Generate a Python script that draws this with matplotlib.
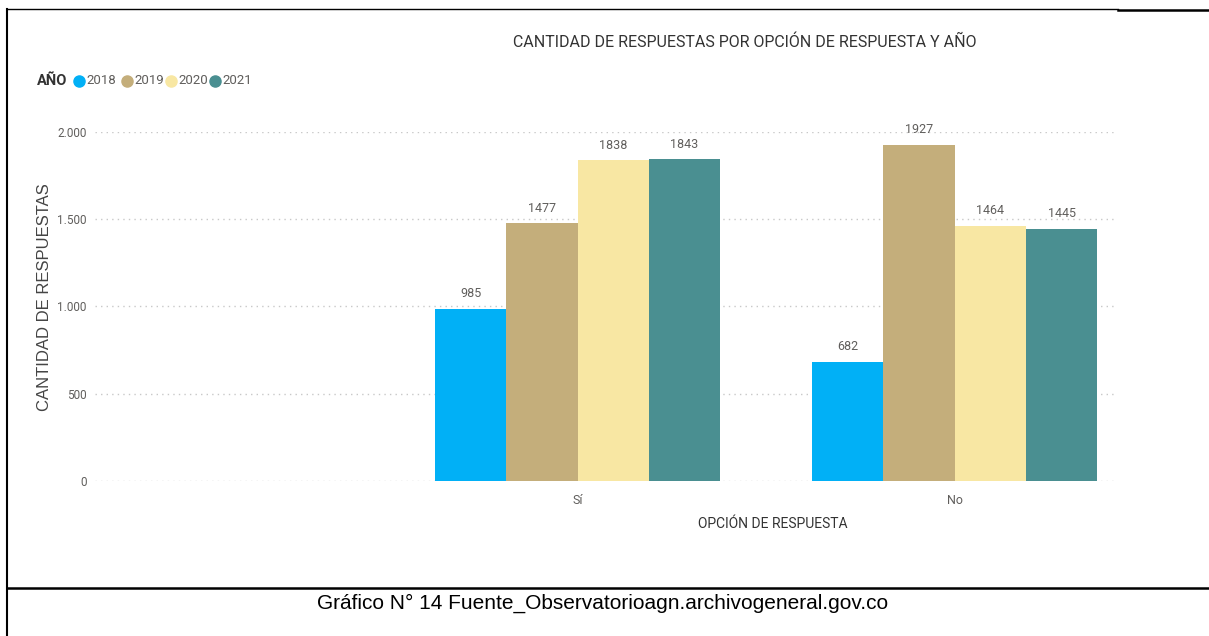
import matplotlib.pyplot as plt
from matplotlib.lines import Line2D

# data
categories = ["Sí", "No"]
years = ["2018", "2019", "2020", "2021"]
values_2018 = [985, 682]
values_2019 = [1477, 1927]
values_2020 = [1838, 1464]
values_2021 = [1843, 1445]
yticks = [0, 500, 1000, 1500, 2000]
ytick_labels = ["0", "500", "1.000", "1.500", "2.000"]

colors = ["#01B0F6", "#C4AE7B", "#F8E7A3", "#4A8F91"]
series = [values_2018, values_2019, values_2020, values_2021]

cond = ["Roboto", "DejaVu Sans"]
arial = ["Liberation Sans", "DejaVu Sans"]

W, H = 1209, 636
fig = plt.figure(figsize=(W / 100, H / 100), dpi=100)
ax = fig.add_axes([95 / W, (H - 481) / H, 1021 / W, 349 / H])

bw = 0.189
x = range(len(categories))
for i, vals in enumerate(series):
    offs = (i - 1.5) * bw
    xs = [c + offs for c in x]
    ax.bar(xs, vals, width=bw, color=colors[i], zorder=2)
    for xx, v in zip(xs, vals):
        ax.text(xx, v + 50, str(v), ha="center", va="bottom", fontsize=9,
                color="#605E5C", family=cond, clip_on=False)

ax.set_xlim(-1.28, 1.428)
ax.set_ylim(0, 2000)
ax.set_yticks(yticks)
ax.set_yticklabels(ytick_labels, family=cond, fontsize=8.5, color="#605E5C")
ax.set_xticks(list(x))
ax.set_xticklabels(categories, family=cond, fontsize=9, color="#605E5C")
ax.tick_params(length=0, pad=9)
ax.tick_params(axis="y", pad=6)
ax.yaxis.grid(True, linestyle=(0, (1, 3)), color="#C8C8C8", linewidth=1, zorder=0)
for s in ax.spines.values():
    s.set_visible(False)

ax.set_xlabel("OPCIÓN DE RESPUESTA", family=cond, fontsize=10, color="#333333")
ax.xaxis.set_label_coords((773 - 95) / 1021, -36 / 349)

fig.text(45 / W, 1 - 297 / H, "CANTIDAD DE RESPUESTAS", rotation=90, ha="center",
         va="center", family=arial, fontsize=12, color="#444444")

fig.text(745 / W, 1 - 42 / H, "CANTIDAD DE RESPUESTAS POR OPCIÓN DE RESPUESTA Y AÑO",
         ha="center", va="center", family=cond, fontsize=11.5, color="#333333")

# legend
fig.text(37 / W, 1 - 81 / H, "AÑO", ha="left", va="center", family=cond,
         fontsize=10.5, fontweight="bold", color="#333333")
lx = [79, 127, 171, 215]
for i, yr in enumerate(years):
    fig.add_artist(Line2D([lx[i] / W], [1 - 81 / H], marker="o", markersize=8,
                          color=colors[i], linestyle="none"))
    fig.text((lx[i] + 7) / W, 1 - 81 / H, yr, ha="left", va="center", family=cond,
             fontsize=9.5, color="#605E5C")

# document frame lines
fig.add_artist(Line2D([7 / W, 7 / W], [0, 1 - 9 / H], color="black", linewidth=1.5))
fig.add_artist(Line2D([7 / W, 1118 / W], [1 - 9 / H, 1 - 9 / H], color="black", linewidth=1))
fig.add_artist(Line2D([1118 / W, 1], [1 - 10 / H, 1 - 10 / H], color="black", linewidth=1.8))
fig.add_artist(Line2D([7 / W, 1], [1 - 588 / H, 1 - 588 / H], color="black", linewidth=1.8))

fig.text(603 / W, 1 - 603 / H, "Gráfico N° 14 Fuente_Observatorioagn.archivogeneral.gov.co",
         ha="center", va="center", family=arial, fontsize=15, color="black")

fig.savefig("out.png", dpi=100)
